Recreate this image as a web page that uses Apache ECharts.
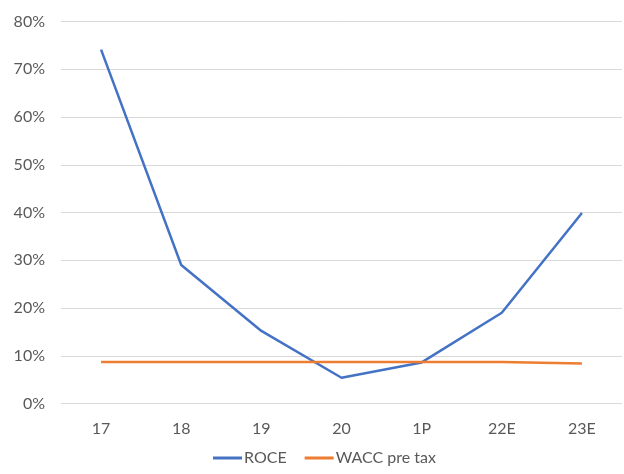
<!DOCTYPE html>
<html><head><meta charset="utf-8">
<script src="https://cdn.jsdelivr.net/npm/echarts@6/dist/echarts.min.js"></script>
<style>html,body{margin:0;padding:0;background:#fff}#c{width:624px;height:474px}</style>
</head><body><div id="c"></div>
<script>
const categories = ['17','18','19','20','1P','22E','23E'];
const roce = [74.1, 29.0, 15.2, 5.4, 8.6, 19.0, 39.9];
const wacc = [8.7, 8.7, 8.7, 8.7, 8.7, 8.7, 8.4];
const font = 'Lato, "Open Sans", sans-serif';
const chart = echarts.init(document.getElementById('c'));
chart.setOption({
  animation: false,
  grid: {left: 61, right: 2, top: 21.5, bottom: 70.5, containLabel: false},
  legend: {
    bottom: 3, left: 208, itemWidth: 29, itemHeight: 3, itemGap: 18,
    icon: 'rect',
    textStyle: {color: '#595959', fontSize: 16, fontFamily: font, padding: [0, 0, 0, -3]},
    data: ['ROCE', 'WACC pre tax']
  },
  xAxis: {
    type: 'category', data: categories, boundaryGap: true,
    axisLine: {show: false}, axisTick: {show: false},
    axisLabel: {color: '#595959', fontSize: 16, fontFamily: font, margin: 17}
  },
  yAxis: {
    type: 'value', min: 0, max: 80, interval: 10,
    axisLabel: {formatter: '{value}%', color: '#595959', fontSize: 16, fontFamily: font, margin: 16},
    axisLine: {show: false}, axisTick: {show: false},
    splitLine: {lineStyle: {color: '#d9d9d9', width: 1}}
  },
  series: [
    {name: 'ROCE', type: 'line', data: roce, symbol: 'none', lineStyle: {color: '#4472C4', width: 2.5}, itemStyle: {color: '#4472C4'}},
    {name: 'WACC pre tax', type: 'line', data: wacc, symbol: 'none', lineStyle: {color: '#ED7D31', width: 2.5}, itemStyle: {color: '#ED7D31'}}
  ]
});
</script></body></html>
